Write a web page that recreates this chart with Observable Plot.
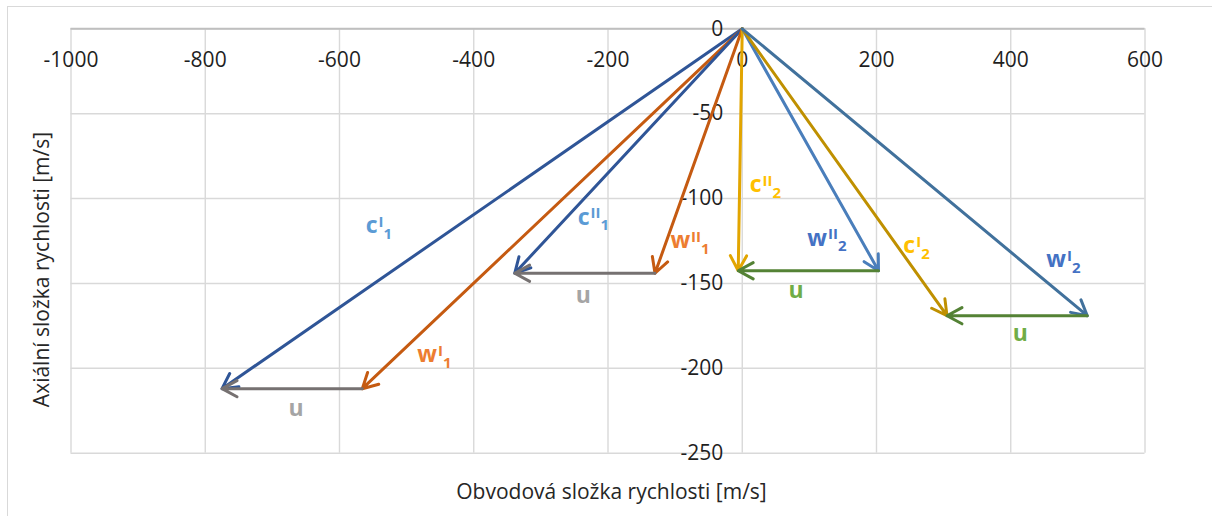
<!DOCTYPE html>
<html>
<head>
<meta charset="utf-8">
<script src="https://cdn.jsdelivr.net/npm/d3@7"></script>
<script src="https://cdn.jsdelivr.net/npm/@observablehq/plot@0.6"></script>
<style>
  html, body { margin: 0; padding: 0; background: #fff; }
  #chart { position: relative; width: 1212px; height: 516px; overflow: hidden; }
  #chart .frame { position: absolute; left: 7px; top: 6px; width: 1300px; height: 600px; border: 1px solid #d9d9d9; }
  #chart svg { position: absolute; left: 0; top: 0; }
</style>
</head>
<body>
<div id="chart"><div class="frame"></div></div>
<script>
// Velocity triangles of a two-stage machine: absolute velocity c, relative
// velocity w and blade speed u, split into circumferential and axial parts [m/s].

const xTicks = [-1000, -800, -600, -400, -200, 0, 200, 400, 600];
const yTicks = [0, -50, -100, -150, -200, -250];

// Vectors drawn from the origin: tip coordinates (circumferential, axial).
const vectorNames = ["c'1", "w'1", "c''1", "w''1", "c''2", "w''2", "c'2", "w'2"];
const vectorCirc  = [-775, -566, -339, -130, -6, 203, 305, 514];
const vectorAxial = [-212, -212, -144, -144, -142.5, -142.5, -169, -169];
const vectorColors = ["#2F5597", "#C55A11", "#2F5597", "#C55A11", "#E2A500", "#4A7EBB", "#BF9000", "#41719C"];

// Blade speed u closes each triangle: from the tip of w to the tip of c.
const bladeFrom = ["w'1", "w''1", "w''2", "w'2"];
const bladeTo   = ["c'1", "c''1", "c''2", "c'2"];
const bladeColors = ["#767171", "#767171", "#548235", "#548235"];

// Vector labels: letter, superscript, subscript, anchor (circumferential, axial).
const labelBase = ["c", "c", "w", "w", "u", "u", "c", "w", "c", "w", "u", "u"];
const labelSup  = ["I", "II", "I", "II", "", "", "II", "II", "I", "I", "", ""];
const labelSub  = ["1", "1", "1", "1", "", "", "2", "2", "2", "2", "", ""];
const labelCirc = [-561, -245, -484, -107, -676, -248, 11, 97, 240, 453, 69, 403];
const labelAxial = [-116, -111, -192, -125, -224, -157, -92, -123.5, -128, -136, -154, -179.5];
const labelColors = ["#5B9BD5", "#5B9BD5", "#ED7D31", "#ED7D31", "#A5A5A5", "#A5A5A5",
                     "#FFC000", "#4472C4", "#FFC000", "#4472C4", "#70AD47", "#70AD47"];

const xTitle = "Obvodová složka rychlosti [m/s]";
const yTitle = "Axiální složka rychlosti [m/s]";

const vectors = vectorNames.map((name, i) => ({
  name, x1: 0, y1: 0, x2: vectorCirc[i], y2: vectorAxial[i], color: vectorColors[i]
}));
const tip = name => vectors.find(v => v.name === name);
const blades = bladeFrom.map((from, i) => ({
  x1: tip(from).x2, y1: tip(from).y2, x2: tip(bladeTo[i]).x2, y2: tip(bladeTo[i]).y2, color: bladeColors[i]
}));
const labels = labelBase.map((b, i) => ({
  text: `${b}|${labelSup[i]}|${labelSub[i]}`, x: labelCirc[i], y: labelAxial[i], color: labelColors[i]
}));

const font = "'Open Sans', 'Liberation Sans', sans-serif";

const plot = Plot.plot({
  width: 1212,
  height: 516,
  marginLeft: 70.5,
  marginRight: 67.5,
  marginTop: 28.3,
  marginBottom: 63.3,
  x: {domain: [-1000, 600], axis: null},
  y: {domain: [-250, 0], axis: null},
  color: {type: "identity"},
  style: {fontFamily: font, background: "transparent", overflow: "visible"},
  marks: [
    Plot.gridX(xTicks, {stroke: "#d9d9d9", strokeOpacity: 1, strokeWidth: 1.4}),
    Plot.gridY(yTicks, {stroke: "#d9d9d9", strokeOpacity: 1, strokeWidth: 1.4}),
    Plot.ruleY([0], {stroke: "#bfbfbf", strokeWidth: 2}),
    Plot.text(xTicks, {x: d => d, y: 0, text: d => String(d), dy: 31, fontSize: 21, fill: "#1f1f1f"}),
    Plot.text(yTicks, {x: 0, y: d => d, text: d => String(d), textAnchor: "end", dx: -19, fontSize: 21, fill: "#1f1f1f"}),
    Plot.arrow(vectors, {x1: "x1", y1: "y1", x2: "x2", y2: "y2", stroke: "color", strokeWidth: 3, headLength: 8.5, headAngle: 57}),
    Plot.arrow(blades, {x1: "x1", y1: "y1", x2: "x2", y2: "y2", stroke: "color", strokeWidth: 3, headLength: 8.5, headAngle: 57}),
    Plot.text(labels, {x: "x", y: "y", text: "text", fill: "color", textAnchor: "start", fontSize: 23, fontWeight: "bold"}),
    Plot.text([xTitle], {frameAnchor: "bottom", textAnchor: "middle", lineAnchor: "middle", dx: 3.5, dy: 39.3, fontSize: 21, fill: "#262626"}),
    Plot.text([yTitle], {frameAnchor: "left", textAnchor: "middle", lineAnchor: "middle", rotate: -90, dx: -28.5, dy: 28.5, fontSize: 21, fill: "#262626"})
  ]
});

// Turn "base|sup|sub" label strings into letters with superscript and subscript.
const ns = "http://www.w3.org/2000/svg";
plot.querySelectorAll("text").forEach(t => {
  const s = t.textContent;
  if (!s.includes("|")) return;
  const [base, sup, sub] = s.split("|");
  t.textContent = "";
  const b = document.createElementNS(ns, "tspan");
  b.textContent = base;
  t.appendChild(b);
  if (sup) {
    const p = document.createElementNS(ns, "tspan");
    p.setAttribute("font-size", "15");
    p.setAttribute("dx", "1");
    p.setAttribute("dy", "-6.5");
    p.textContent = sup;
    t.appendChild(p);
  }
  if (sub) {
    const q = document.createElementNS(ns, "tspan");
    q.setAttribute("font-size", "15");
    q.setAttribute("dy", "12");
    q.textContent = sub;
    t.appendChild(q);
  }
});

document.getElementById("chart").appendChild(plot);
</script>
</body>
</html>
